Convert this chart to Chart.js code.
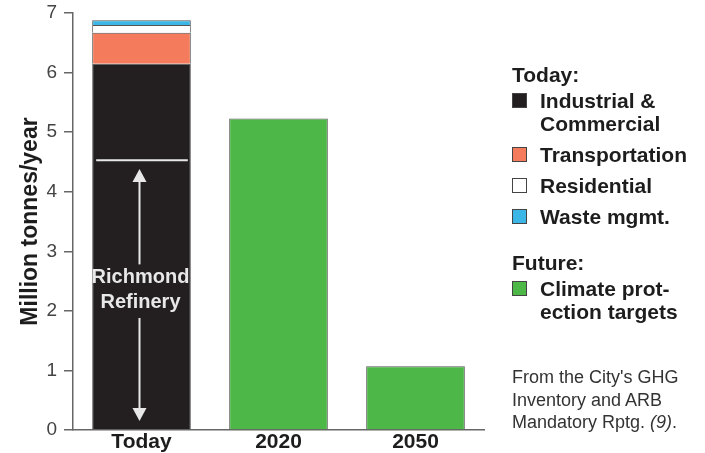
<!DOCTYPE html>
<html>
<head>
<meta charset="utf-8">
<script src="https://cdn.jsdelivr.net/npm/chart.js@4.4.1/dist/chart.umd.min.js"></script>
<style>
    body { margin: 0; background: #fff; font-family: "Liberation Sans", Arial, sans-serif; }
    #wrap { position: relative; width: 705px; height: 453px; overflow: hidden; }
    #legend { position: absolute; left: 512px; top: 63px; color: #1d1d1d; font-weight: bold; font-size: 21px; line-height: 23px; }
    #legend .head { margin-bottom: 3px; }
    #legend .item { position: relative; padding-left: 28px; margin-bottom: 8px; }
    #legend .sw { position: absolute; left: 0; top: 4px; width: 13px; height: 13px; border: 1px solid #444; }
    #legend .gap { height: 15px; }
    #source { position: absolute; left: 512px; top: 366px; color: #333; font-size: 18px; line-height: 22.5px; }
</style>
</head>
<body>
<div id="wrap">
    <canvas id="ghgChart" width="705" height="453"></canvas>
    <div id="legend"></div>
    <div id="source">From the City's GHG<br>Inventory and ARB<br>Mandatory Rptg. <i>(9)</i>.</div>
</div>
<script>
// Data
const categories = ["Today", "2020", "2050"];
const industrial = [6.15, null, null];
const transportation = [0.52, null, null];
const residential = [0.13, null, null];
const wasteMgmt = [0.08, null, null];
const climateTargets = [null, 5.23, 1.07];
const yTicks = [0, 1, 2, 3, 4, 5, 6, 7];

// Richmond Refinery marker (value on the y scale)
const refineryLevel = 4.53;

const colors = {
    industrial: "#231f20",
    transportation: "#f47c5c",
    residential: "#ffffff",
    waste: "#3cb6e6",
    climate: "#4db848"
};

// Legend
const legendGroups = [
    { head: "Today:", items: [
        { label: "Industrial &<br>Commercial", color: colors.industrial },
        { label: "Transportation", color: colors.transportation },
        { label: "Residential", color: colors.residential },
        { label: "Waste mgmt.", color: colors.waste }
    ]},
    { head: "Future:", items: [
        { label: "Climate prot-<br>ection targets", color: colors.climate }
    ]}
];

const legendEl = document.getElementById("legend");
legendGroups.forEach((g, i) => {
    if (i > 0) legendEl.insertAdjacentHTML("beforeend", '<div class="gap"></div>');
    legendEl.insertAdjacentHTML("beforeend", `<div class="head">${g.head}</div>`);
    g.items.forEach(it => {
        legendEl.insertAdjacentHTML("beforeend",
            `<div class="item"><span class="sw" style="background:${it.color}"></span>${it.label}</div>`);
    });
});

// Annotation: refinery line, arrows and label inside the Today bar
const refineryPlugin = {
    id: "refinery",
    afterDatasetsDraw(chart) {
        const { ctx, scales: { y } } = chart;
        const bar = chart.getDatasetMeta(0).data[0];
        const half = bar.width / 2;
        const cx = bar.x - 2;
        const lineY = y.getPixelForValue(refineryLevel);

        ctx.save();
        ctx.strokeStyle = "#e8e8e8";
        ctx.fillStyle = "#e8e8e8";
        ctx.lineWidth = 2;

        ctx.beginPath();
        ctx.moveTo(bar.x - half + 4, lineY);
        ctx.lineTo(bar.x + half - 3, lineY);
        ctx.stroke();

        // up arrow
        const upTip = y.getPixelForValue(4.38);
        const upEnd = y.getPixelForValue(2.78);
        ctx.beginPath();
        ctx.moveTo(cx, upTip + 10);
        ctx.lineTo(cx, upEnd);
        ctx.stroke();
        ctx.beginPath();
        ctx.moveTo(cx, upTip);
        ctx.lineTo(cx - 7, upTip + 13);
        ctx.lineTo(cx + 7, upTip + 13);
        ctx.closePath();
        ctx.fill();

        // down arrow
        const dnStart = y.getPixelForValue(1.88);
        const dnTip = y.getPixelForValue(0.15);
        ctx.beginPath();
        ctx.moveTo(cx, dnStart);
        ctx.lineTo(cx, dnTip - 10);
        ctx.stroke();
        ctx.beginPath();
        ctx.moveTo(cx, dnTip);
        ctx.lineTo(cx - 7, dnTip - 13);
        ctx.lineTo(cx + 7, dnTip - 13);
        ctx.closePath();
        ctx.fill();

        ctx.font = 'bold 20px "Liberation Sans", Arial, sans-serif';
        ctx.textAlign = "center";
        ctx.textBaseline = "middle";
        ctx.fillText("Richmond", bar.x - 1, y.getPixelForValue(2.56));
        ctx.fillText("Refinery", bar.x - 1, y.getPixelForValue(2.14));
        ctx.restore();
    }
};

const barStyle = {
    borderColor: "#555",
    borderWidth: 1,
    barPercentage: 0.72,
    categoryPercentage: 1
};

Chart.defaults.font.family = '"Liberation Sans", Arial, sans-serif';

new Chart(document.getElementById("ghgChart").getContext("2d"), {
    type: "bar",
    data: {
        labels: categories,
        datasets: [
            { label: "Industrial & Commercial", data: industrial, backgroundColor: colors.industrial, ...barStyle },
            { label: "Transportation", data: transportation, backgroundColor: colors.transportation, ...barStyle },
            { label: "Residential", data: residential, backgroundColor: colors.residential, ...barStyle },
            { label: "Waste mgmt.", data: wasteMgmt, backgroundColor: colors.waste, ...barStyle },
            { label: "Climate protection targets", data: climateTargets, backgroundColor: colors.climate, ...barStyle }
        ]
    },
    options: {
        responsive: false,
        animation: false,
        layout: { padding: { top: 13, right: 221, left: 0, bottom: 0 } },
        plugins: {
            legend: { display: false },
            tooltip: { enabled: false }
        },
        scales: {
            x: {
                stacked: true,
                grid: { display: false, drawTicks: false },
                border: { display: true, color: "#666", width: 1.5 },
                ticks: { color: "#1d1d1d", padding: 0, font: { size: 21, weight: "bold" } },
                afterFit(scale) { scale.height = 23; }
            },
            y: {
                stacked: true,
                min: 0,
                max: 7,
                afterBuildTicks(scale) { scale.ticks = yTicks.map(v => ({ value: v })); },
                grid: { display: true, drawOnChartArea: false, drawTicks: true, tickLength: 9, color: "#666", lineWidth: 1.5 },
                border: { display: true, color: "#666", width: 1.5 },
                ticks: { color: "#444", padding: 7, font: { size: 19 } },
                title: {
                    display: true,
                    text: "Million tonnes/year",
                    color: "#1d1d1d",
                    padding: { top: 17, bottom: 4 },
                    font: { size: 23, weight: "bold" }
                },
                afterFit(scale) {
                    scale.width = 73;
                    scale.paddingTop = 0;
                    scale.paddingBottom = 0;
                }
            }
        }
    },
    plugins: [refineryPlugin]
});
</script>
</body>
</html>
